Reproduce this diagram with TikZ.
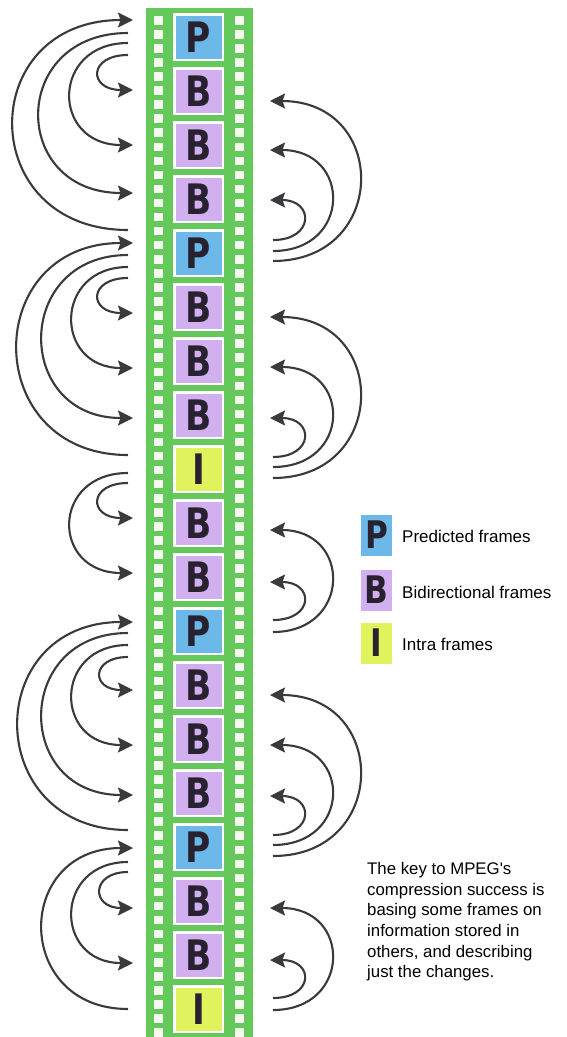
\documentclass[tikz,border=0pt]{standalone}
\usepackage{fontspec}
\setmainfont{Liberation Sans}[Ligatures=TeXOff]
\newfontfamily\framefont{DejaVu Sans}
\usetikzlibrary{arrows.meta,calc}
\definecolor{filmgreen}{RGB}{100,200,90}
\definecolor{holecol}{RGB}{244,251,238}
\definecolor{colP}{RGB}{108,184,232}
\definecolor{colB}{RGB}{210,176,240}
\definecolor{colI}{RGB}{224,242,92}
\definecolor{lettercol}{RGB}{40,34,48}
\definecolor{arrowcol}{RGB}{58,58,60}
\newcommand\FrLetter[1]{\scalebox{0.82}[1]{#1}}
\newcommand\LArc[5]{\draw[arr] ($(#1)+(-70.5,#2)$) .. controls +(-#5/0.75,0) and +(-#5/0.75-5,0) .. ($(#3)+(-65.5,#4)$);}
\newcommand\RArc[5]{\draw[arr] ($(#1)+(74.5,#2)$) .. controls +(#5/0.75,0) and +(#5/0.75+3,0) .. ($(#3)+(71.5,#4)$);}
\tikzset{
  filmframe/.style={draw=white, line width=2.5pt, minimum width=48.5pt, minimum height=45.5pt,
    inner sep=0pt, text=lettercol, font=\framefont\bfseries\fontsize{42}{42}\selectfont},
  legbox/.style={minimum width=31pt, minimum height=41pt, inner sep=0pt, text=lettercol,
    font=\framefont\bfseries\fontsize{38}{38}\selectfont},
  legtext/.style={anchor=west, inner sep=0pt, font=\fontsize{17}{19}\selectfont},
  arr/.style={draw=arrowcol, line width=2.1pt, -{Stealth[length=15pt,width=15pt,inset=2.5pt]}}
}
\begin{document}
\begin{tikzpicture}[x=1pt,y=-1pt]
\useasboundingbox (0,0) rectangle (566,1037);
\fill[white] (0,0) rectangle (566,1037);
% film strip
\fill[filmgreen] (146,8) rectangle (253,1040);
\foreach \k in {0,...,72} {
  \fill[holecol] (154,16+14.06*\k) rectangle +(9,8.5);
  \fill[holecol] (235,16+14.06*\k) rectangle +(9,8.5);
}
% frames
\foreach \t [count=\i from 0] in {P,B,B,B,P,B,B,B,I,B,B,P,B,B,B,P,B,B,I} {
  \node[filmframe, fill=col\t] (f\i) at (198.5,37+54*\i) {\FrLetter{\t}};
}
% left arcs (forward)
\LArc{f4}{-23}{f0}{-17}{115}
\LArc{f0}{-4}{f3}{-6}{89}
\LArc{f0}{6}{f2}{0}{58}
\LArc{f0}{18}{f1}{-1}{30}
\LArc{f8}{-14}{f4}{-10}{111}
\LArc{f4}{2}{f7}{3}{86}
\LArc{f4}{14}{f6}{7}{56}
\LArc{f4}{25}{f5}{6}{30}
\LArc{f8}{4}{f10}{-4}{58}
\LArc{f8}{14}{f9}{-5}{30}
\LArc{f15}{-17}{f11}{-9}{110}
\LArc{f11}{2}{f14}{2}{86}
\LArc{f11}{14}{f13}{6}{56}
\LArc{f11}{26}{f12}{5}{28}
\LArc{f18}{0}{f15}{1}{86}
\LArc{f15}{15}{f17}{8}{56}
\LArc{f15}{25}{f16}{7}{28}
% right arcs (backward)
\RArc{f4}{8}{f1}{10}{87}
\RArc{f4}{-2}{f2}{5}{59}
\RArc{f4}{-13}{f3}{1}{31}
\RArc{f8}{9}{f5}{10}{87}
\RArc{f8}{-2}{f6}{6}{59}
\RArc{f8}{-12}{f7}{3}{31}
\RArc{f11}{1}{f9}{7}{59}
\RArc{f11}{-11}{f10}{5}{31}
\RArc{f15}{9}{f12}{10}{87}
\RArc{f15}{-2}{f13}{6}{59}
\RArc{f15}{-12}{f14}{3}{31}
\RArc{f18}{1}{f16}{7}{59}
\RArc{f18}{-11}{f17}{5}{31}
% legend
\node[legbox, fill=colP] (lp) at (376.5,535) {\FrLetter{P}};
\node[legbox, fill=colB] (lb) at (376.5,590) {\FrLetter{B}};
\node[legbox, fill=colI] (li) at (376.5,643) {\FrLetter{I}};
\node[legtext] (tp) at (402,536) {Predicted frames};
\node[legtext] (tb) at (402,592) {Bidirectional frames};
\node[legtext] (ti) at (402,644) {Intra frames};
% caption
\node[anchor=north west, inner sep=0pt, align=left, font=\fontsize{16.8}{20.7}\selectfont] (cap) at (367,862)
  {The key to MPEG's\\compression success is\\basing some frames on\\information stored in\\others, and describing\\just the changes.};
\end{tikzpicture}
\end{document}
